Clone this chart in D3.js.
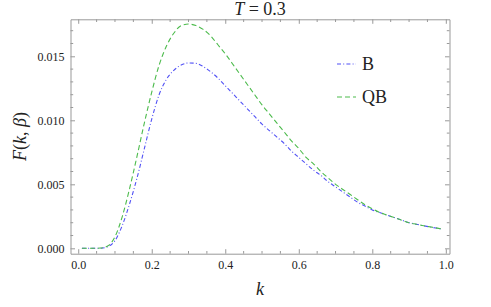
<!DOCTYPE html>
<html>
<head>
<meta charset="utf-8">
<script src="https://cdn.jsdelivr.net/npm/d3@7"></script>
<style>
  body { margin: 0; background: #fff; }
  .frame path.domain { stroke: #999; }
  .frame .tick line { stroke: #999; }
</style>
</head>
<body>
<div id="chart"></div>
<script>
// values
const kValues = [0.01, 0.02, 0.04, 0.06, 0.08, 0.10, 0.12, 0.14, 0.16, 0.18, 0.20, 0.22, 0.24,
  0.26, 0.28, 0.30, 0.32, 0.34, 0.36, 0.38, 0.40, 0.42, 0.44, 0.46, 0.48, 0.50, 0.52, 0.54,
  0.56, 0.58, 0.60, 0.62, 0.64, 0.66, 0.68, 0.70, 0.72, 0.74, 0.76, 0.78, 0.80, 0.82, 0.84,
  0.86, 0.88, 0.90, 0.92, 0.94, 0.96, 0.98, 0.99];
const bValues = [0, 0, 0, 0.00001, 0.00012, 0.0006, 0.0018, 0.0035, 0.0055, 0.0078, 0.0101,
  0.0120, 0.0132, 0.0139, 0.01432, 0.01448, 0.01445, 0.0142, 0.0138, 0.0133, 0.0127, 0.0121,
  0.0115, 0.0109, 0.0103, 0.0097, 0.0092, 0.0087, 0.0082, 0.0076, 0.0071, 0.0066, 0.0061,
  0.0057, 0.0052, 0.0048, 0.0044, 0.0040, 0.0036, 0.0033, 0.0030, 0.0028, 0.0026, 0.0024,
  0.0022, 0.0020, 0.00188, 0.00176, 0.00165, 0.00155, 0.00150];
const qbValues = [0, 0, 0, 0.00002, 0.00018, 0.0009, 0.0025, 0.0047, 0.0072, 0.0098, 0.0122,
  0.0143, 0.0158, 0.0168, 0.0174, 0.01752, 0.0174, 0.0171, 0.0166, 0.0159, 0.0152, 0.0144,
  0.0136, 0.0128, 0.0120, 0.0112, 0.0105, 0.0098, 0.0091, 0.0084, 0.0078, 0.0071, 0.0066,
  0.0060, 0.0055, 0.0050, 0.0046, 0.0042, 0.0038, 0.0034, 0.0031, 0.0028, 0.0026, 0.0024,
  0.0022, 0.0020, 0.00188, 0.00176, 0.00166, 0.00156, 0.00150];
const xTicks = [0, 0.2, 0.4, 0.6, 0.8, 1.0];
const yTicks = [0, 0.005, 0.010, 0.015];
const seriesNames = ["B", "QB"];

const serif = '"Liberation Serif", "Times New Roman", Times, "DejaVu Serif", serif';
const width = 491, height = 307;
const svg = d3.select("#chart").append("svg")
  .attr("width", width).attr("height", height)
  .style("font-family", serif);

// scales (frame a bit wider than the data range, like Mathematica's padding)
const x = d3.scaleLinear().domain([-0.021, 1.01]).range([70.5, 449.5]);
const y = d3.scaleLinear().domain([-0.00042, 0.01789]).range([253.7, 19.3]);

const xMinor = d3.range(0, 1.0001, 0.05).filter(v => Math.round(v * 100) % 20 !== 0);
const yMinor = d3.range(0, 0.0179, 0.001).filter(v => Math.round(v * 1000) % 5 !== 0);

const plotTop = y.range()[1], plotBottom = y.range()[0];
const plotLeft = x.range()[0], plotRight = x.range()[1];

const frame = svg.append("g").attr("class", "frame");

frame.append("g")
  .attr("transform", `translate(0,${plotBottom})`)
  .call(d3.axisBottom(x).tickValues(xTicks).tickFormat(d3.format(".1f"))
    .tickSizeInner(-4.5).tickSizeOuter(0).tickPadding(7))
  .attr("font-family", serif)
  .call(g => g.selectAll("text").attr("font-size", 12).attr("fill", "#222"));

frame.append("g")
  .attr("transform", `translate(0,${plotTop})`)
  .call(d3.axisTop(x).tickValues(xTicks).tickFormat("")
    .tickSizeInner(-4.5).tickSizeOuter(0));

frame.append("g")
  .attr("transform", `translate(${plotLeft},0)`)
  .call(d3.axisLeft(y).tickValues(yTicks).tickFormat(d3.format(".3f"))
    .tickSizeInner(-4.5).tickSizeOuter(0).tickPadding(6))
  .attr("font-family", serif)
  .call(g => g.selectAll("text").attr("font-size", 12).attr("fill", "#222"));

frame.append("g")
  .attr("transform", `translate(${plotRight},0)`)
  .call(d3.axisRight(y).tickValues(yTicks).tickFormat("")
    .tickSizeInner(-4.5).tickSizeOuter(0));

// minor tick marks
[[plotBottom, -2.7], [plotTop, 2.7]].forEach(([yy, len]) => {
  svg.append("g").selectAll("line").data(xMinor).enter().append("line")
    .attr("stroke", "#999")
    .attr("x1", d => x(d)).attr("x2", d => x(d))
    .attr("y1", yy).attr("y2", yy + len);
});
[[plotLeft, 2.7], [plotRight, -2.7]].forEach(([xx, len]) => {
  svg.append("g").selectAll("line").data(yMinor).enter().append("line")
    .attr("stroke", "#999")
    .attr("y1", d => y(d)).attr("y2", d => y(d))
    .attr("x1", xx).attr("x2", xx + len);
});

// curves
const line = d3.line()
  .x(d => x(d[0]))
  .y(d => y(d[1]))
  .curve(d3.curveMonotoneX);

const styles = {
  B: { color: "#5151f5", dash: "4,2.2,1,2.2" },
  QB: { color: "#4cbb4c", dash: "5,3" }
};

[bValues, qbValues].forEach((vals, i) => {
  const s = styles[seriesNames[i]];
  svg.append("path")
    .datum(kValues.map((k, j) => [k, vals[j]]))
    .attr("fill", "none")
    .attr("stroke", s.color)
    .attr("stroke-width", 1.1)
    .attr("stroke-dasharray", s.dash)
    .attr("d", line);
});

// legend
const legend = svg.append("g").attr("transform", "translate(337,64)");
seriesNames.forEach((name, i) => {
  const s = styles[name];
  const g = legend.append("g").attr("transform", `translate(0,${i * 33})`);
  g.append("line")
    .attr("x1", 0).attr("x2", 19).attr("y1", 0).attr("y2", 0)
    .attr("stroke", s.color).attr("stroke-width", 1.1)
    .attr("stroke-dasharray", s.dash);
  g.append("text")
    .attr("x", 25).attr("y", 6)
    .attr("font-size", 18)
    .attr("fill", "#222")
    .text(name);
});

// title
svg.append("text")
  .attr("x", (plotLeft + plotRight) / 2).attr("y", 15)
  .attr("text-anchor", "middle")
  .attr("font-size", 18)
  .attr("fill", "#222")
  .html('<tspan font-style="italic">T</tspan> = 0.3');

// axis labels
svg.append("text")
  .attr("x", (plotLeft + plotRight) / 2).attr("y", 295)
  .attr("text-anchor", "middle")
  .attr("font-size", 18)
  .attr("font-style", "italic")
  .attr("fill", "#222")
  .text("k");

svg.append("text")
  .attr("transform", `translate(26,${(plotTop + plotBottom) / 2}) rotate(-90)`)
  .attr("text-anchor", "middle")
  .attr("font-size", 18)
  .attr("fill", "#222")
  .html('<tspan font-style="italic">F</tspan>(<tspan font-style="italic">k</tspan>, <tspan font-style="italic">β</tspan>)');
</script>
</body>
</html>
